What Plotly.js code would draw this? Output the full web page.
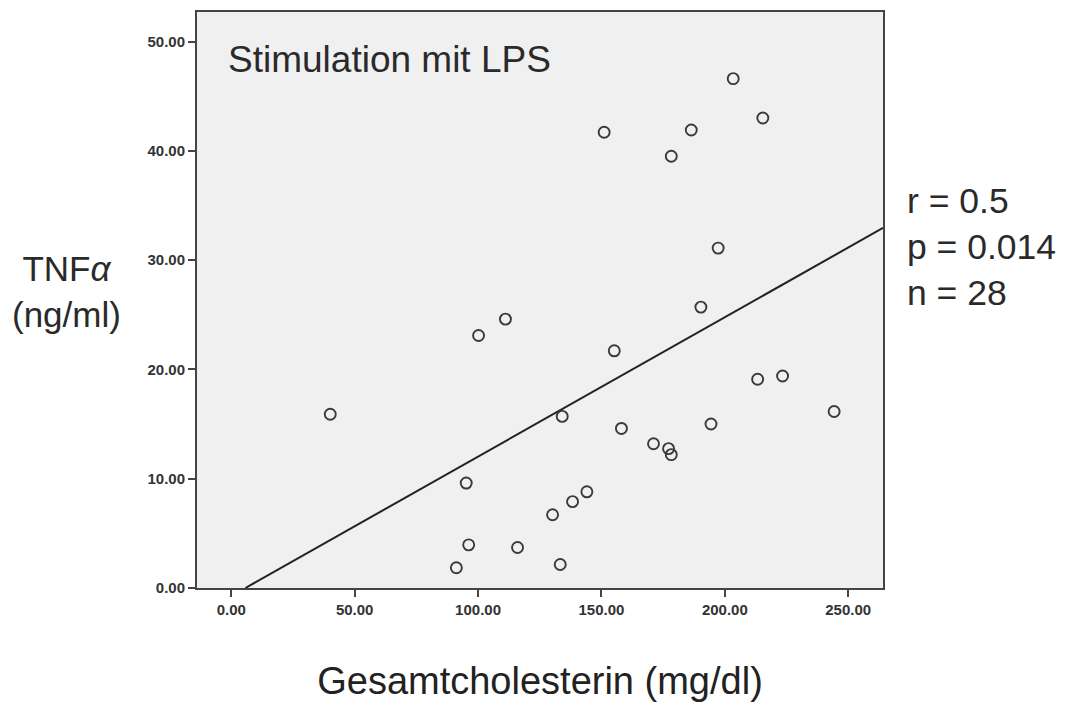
<!DOCTYPE html>
<html>
<head>
<meta charset="utf-8">
<script src="https://cdn.plot.ly/plotly-3.0.1.min.js"></script>
<style>html,body{margin:0;padding:0;background:#fff;}#chart{width:1067px;height:702px;}</style>
</head>
<body>
<div id="chart"></div>
<script>
// Data
const cholesterol = [40.1, 151.1, 203.4, 215.4, 186.4, 178.3, 197.3, 190.3,
  100.2, 111.1, 155.2, 134.1, 158.1, 171.1, 95.2, 144.1, 138.3, 130.2,
  96.2, 116.0, 91.2, 133.3, 213.3, 223.4, 244.3, 194.4, 177.2, 178.3];
const tnfAlpha = [15.9, 41.7, 46.6, 43.0, 41.9, 39.5, 31.1, 25.7,
  23.1, 24.6, 21.7, 15.7, 14.6, 13.2, 9.6, 8.8, 7.9, 6.7,
  3.95, 3.7, 1.85, 2.15, 19.1, 19.4, 16.15, 15.0, 12.75, 12.2];
const fitSlope = 0.1275;
const fitIntercept = -0.727;
const xTickVals = [0, 50, 100, 150, 200, 250];
const yTickVals = [0, 10, 20, 30, 40, 50];
const xRange = [-13.9, 264.1];
const yRange = [0, 52.7];
const statsLines = ["r = 0.5", "p = 0.014", "n = 28"];
const panelLabel = "Stimulation mit LPS";
const xTitle = "Gesamtcholesterin (mg/dl)";
const yTitleLines = ["TNF<i>α</i>", "(ng/ml)"];

const fitX = [-fitIntercept / fitSlope, xRange[1]];
const fitY = fitX.map(x => fitSlope * x + fitIntercept);

const FONT = "Arial, 'Liberation Sans', sans-serif";

const traces = [
  {
    x: fitX, y: fitY, type: 'scatter', mode: 'lines',
    line: {color: '#222222', width: 2}, hoverinfo: 'skip', showlegend: false
  },
  {
    x: cholesterol, y: tnfAlpha, type: 'scatter', mode: 'markers',
    marker: {symbol: 'circle-open', size: 11, color: '#3a3a3a', line: {width: 1.9, color: '#3a3a3a'}},
    showlegend: false
  }
];

const layout = {
  width: 1067, height: 702,
  margin: {l: 197, r: 184, t: 12, b: 114, pad: 0},
  paper_bgcolor: '#ffffff',
  plot_bgcolor: '#f0f0f0',
  font: {family: FONT, color: '#222'},
  showlegend: false,
  xaxis: {
    range: xRange, tickvals: xTickVals, tickformat: '.2f',
    showgrid: false, zeroline: false,
    showline: true, mirror: true, linecolor: '#444', linewidth: 2,
    ticks: 'outside', ticklen: 7, tickwidth: 2, tickcolor: '#444',
    tickfont: {family: FONT, size: 15, color: '#333', weight: 'bold'},
    title: {text: xTitle, font: {family: FONT, size: 38, color: '#222'}, standoff: 50}
  },
  yaxis: {
    range: yRange, tickvals: yTickVals, tickformat: '.2f',
    showgrid: false, zeroline: false,
    showline: true, mirror: true, linecolor: '#444', linewidth: 2,
    ticks: 'outside', ticklen: 7, tickwidth: 2, tickcolor: '#444',
    tickfont: {family: FONT, size: 15, color: '#333', weight: 'bold'}
  },
  annotations: [
    {
      text: panelLabel, xref: 'paper', yref: 'paper', x: 0.042, y: 0.917,
      xanchor: 'left', yanchor: 'middle', showarrow: false,
      font: {family: FONT, size: 37, color: '#2a2a2a'}
    },
    {
      text: statsLines.join('<br>'), xref: 'paper', yref: 'paper', x: 1.032, y: 0.592,
      xanchor: 'left', yanchor: 'middle', align: 'left', showarrow: false,
      font: {family: FONT, size: 35.5, color: '#2a2a2a'}
    },
    {
      text: yTitleLines.join('<br>'), xref: 'paper', yref: 'paper', x: -0.19, y: 0.515,
      xanchor: 'center', yanchor: 'middle', align: 'center', showarrow: false,
      font: {family: FONT, size: 35, color: '#2a2a2a'}
    }
  ]
};

Plotly.newPlot('chart', traces, layout, {staticPlot: true, displayModeBar: false});
</script>
</body>
</html>
